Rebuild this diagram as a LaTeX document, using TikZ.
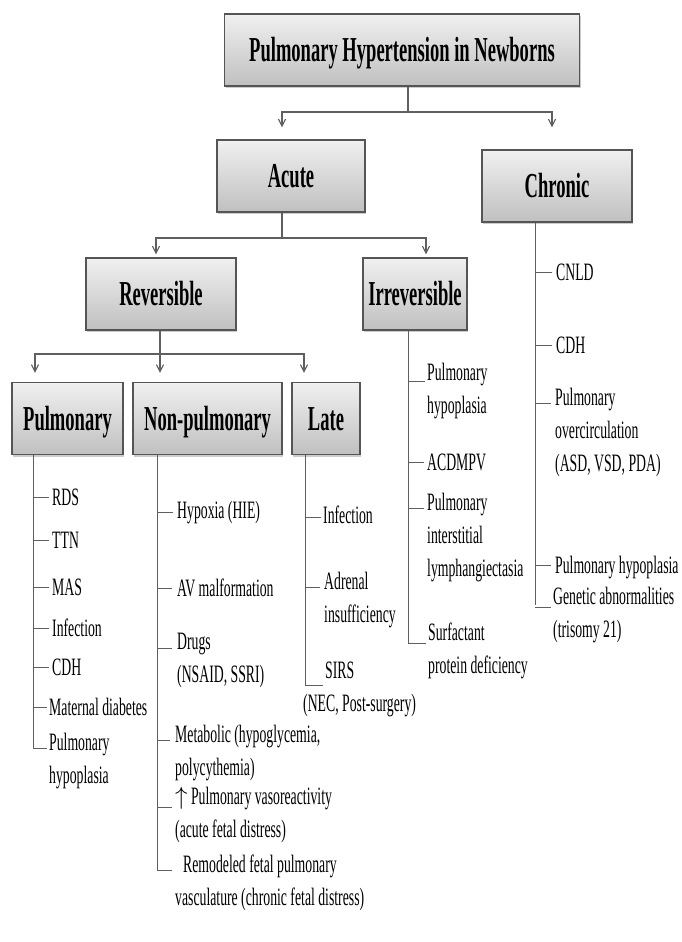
\documentclass[tikz,border=0pt]{standalone}
\usepackage{fontspec}
\setmainfont{Liberation Serif}[FakeStretch=0.55]
\newfontfamily\headfont{Liberation Serif}[FakeStretch=0.53]
\usetikzlibrary{arrows.meta, positioning, shadows}
\definecolor{LN}{RGB}{95,95,95}
\definecolor{BD}{RGB}{85,85,85}
\definecolor{TP}{RGB}{240,240,240}
\definecolor{BT}{RGB}{192,192,192}

\begin{document}
\begin{tikzpicture}[x=1pt, y=-1pt,
  box/.style={draw=BD, line width=1.1pt, top color=TP, bottom color=BT,
              minimum height=72pt, inner sep=0pt, text height=23pt, text depth=0pt,
              font=\headfont\bfseries\fontsize{35}{40}\selectfont,
              drop shadow={shadow xshift=1.2pt, shadow yshift=-2pt, opacity=.4}},
  item/.style={anchor=north west, align=left, inner sep=0pt,
               font=\fontsize{25}{33}\selectfont, execute at begin node=\strut},
  bus/.style={draw=LN, line width=1.2pt},
  arr/.style={bus, -{Straight Barb[length=7pt, width=7pt]}},
  tick/.style={draw=LN, line width=1pt}
]
\useasboundingbox (0,0) rectangle (681,942);

% boxes
\node[box, minimum width=355pt] (ph)     at (402,50)    {Pulmonary Hypertension in Newborns};
\node[box, minimum width=148pt] (acute)  at (291,176)   {Acute};
\node[box, minimum width=150pt] (chronic) at (557,186)  {Chronic};
\node[box, minimum width=150pt] (rev)    at (161,294)   {Reversible};
\node[box, minimum width=104pt] (irrev)  at (415,294)   {Irreversible};
\node[box, minimum width=111pt] (pul)    at (67.5,418.5) {Pulmonary};
\node[box, minimum width=149pt] (nonpul) at (207.5,418.5) {Non-pulmonary};
\node[box, minimum width=68pt]  (late)   at (326,418.5) {Late};

% tree connectors
\coordinate (j1) at (408,112);
\coordinate (j2) at (282,238);
\coordinate (j3) at (160,354);
\draw[bus] (ph.south -| j1) -- (j1);
\draw[arr, shorten >=12pt] (j1) -| ([xshift=-9pt]acute.north);
\draw[arr, shorten >=22pt] (j1) -| ([xshift=-5pt]chronic.north);
\draw[bus] (acute.south -| j2) -- (j2);
\draw[arr, shorten >=3pt] (j2) -| ([xshift=-5pt]rev.north);
\draw[arr, shorten >=3pt] (j2) -| ([xshift=11pt]irrev.north);
\draw[bus] (rev.south -| j3) -- (j3);
\draw[arr, shorten >=9pt] (j3) -| ([xshift=-32.5pt]pul.north);
\draw[arr, shorten >=9pt] (j3) -- (j3 |- nonpul.north);
\draw[arr, shorten >=9pt] (j3) -| ([xshift=-22pt]late.north);

% pulmonary (first baseline = y + 23)
\node[item] (rds)  at (52,482) {RDS};
\node[item] (ttn)  at (52,525) {TTN};
\node[item] (mas)  at (52,572) {MAS};
\node[item] (pinf) at (52,613) {Infection};
\node[item] (pcdh) at (52,652) {CDH};
\node[item] (matd) at (49,692) {Maternal diabetes};
\node[item] (phyp) at (49,733) {Pulmonary\\hypoplasia};

% non-pulmonary
\node[item] (hyp)  at (177,495) {Hypoxia (HIE)};
\node[item] (avm)  at (177,573) {AV malformation};
\node[item] (drug) at (177,633) {Drugs\\(NSAID, SSRI)};
\node[item] (meta) at (175,725) {Metabolic (hypoglycemia,\\polycythemia)};
\node[item] (vaso) at (175,787) {$\uparrow$ Pulmonary vasoreactivity\\(acute fetal distress)};
\node[item] (remo) at (175,855) {\hspace*{8pt}Remodeled fetal pulmonary\\vasculature (chronic fetal distress)};

% late
\node[item] (linf) at (323,500) {Infection};
\node[item] (adr)  at (324,572) {Adrenal\\insufficiency};
\node[item] (sirs) at (325,662) {SIRS\\\hspace*{-22pt}(NEC, Post-surgery)};

% irreversible
\node[item] (ihyp) at (427,363) {Pulmonary\\hypoplasia};
\node[item] (acd)  at (427,447) {ACDMPV};
\node[item] (pil)  at (427,493) {Pulmonary\\interstitial\\lymphangiectasia};
\node[item] (surf) at (428,623) {Surfactant\\protein deficiency};

% chronic
\node[item] (cnld) at (556,257) {CNLD};
\node[item] (ccdh) at (556,330) {CDH};
\node[item] (povc) at (555,388) {Pulmonary\\overcirculation\\(ASD, VSD, PDA)};
\node[item] (chyp) at (555,550) {Pulmonary hypoplasia};
\node[item] (gen)  at (553,587) {Genetic abnormalities\\(trisomy 21)};

% column lines
\coordinate (c1) at (33,748);
\coordinate (c2) at (157,870);
\coordinate (c3) at (305,685);
\coordinate (c4) at (408,643);
\coordinate (c5) at (535,605);
\draw[tick] (pul.south -| c1) -- (c1);
\draw[tick] (nonpul.south -| c2) -- (c2);
\draw[tick] (late.south -| c3) -- (c3);
\draw[tick] (irrev.south -| c4) -- (c4);
\draw[tick] (chronic.south -| c5) -- (c5);

% ticks
\draw[tick] (rds.north west)  ++(-3,15) coordinate (t) -- (t -| c1);
\draw[tick] (ttn.north west)  ++(-3,15) coordinate (t) -- (t -| c1);
\draw[tick] (mas.north west)  ++(-3,15) coordinate (t) -- (t -| c1);
\draw[tick] (pinf.north west) ++(-3,15) coordinate (t) -- (t -| c1);
\draw[tick] (pcdh.north west) ++(-3,15) coordinate (t) -- (t -| c1);
\draw[tick] (matd.north west) ++(-2,15) coordinate (t) -- (t -| c1);
\draw[tick] (phyp.north west) ++(-2,15) coordinate (t) -- (t -| c1);
\draw[tick] (hyp.north west)  ++(-4,17) coordinate (t) -- (t -| c2);
\draw[tick] (avm.north west)  ++(-5,15) coordinate (t) -- (t -| c2);
\draw[tick] (drug.north west) ++(-5,15) coordinate (t) -- (t -| c2);
\draw[tick] (meta.north west) ++(-5,15) coordinate (t) -- (t -| c2);
\draw[tick] (vaso.north west) ++(-3,20) coordinate (t) -- (t -| c2);
\draw[tick] (remo.north west) ++(-3,15) coordinate (t) -- (t -| c2);
\draw[tick] (linf.north west) ++(-2,17) coordinate (t) -- (t -| c3);
\draw[tick] (adr.north west)  ++(-4,15) coordinate (t) -- (t -| c3);
\draw[tick] (sirs.north west) ++(-2,23) coordinate (t) -- (t -| c3);
\draw[tick] (ihyp.north west) ++(-2,18) coordinate (t) -- (t -| c4);
\draw[tick] (acd.north west)  ++(-3,15) coordinate (t) -- (t -| c4);
\draw[tick] (pil.north west)  ++(-3,15) coordinate (t) -- (t -| c4);
\draw[tick] (surf.north west) ++(-2,20) coordinate (t) -- (t -| c4);
\draw[tick] (cnld.north west) ++(-4,15) coordinate (t) -- (t -| c5);
\draw[tick] (ccdh.north west) ++(-4,15) coordinate (t) -- (t -| c5);
\draw[tick] (povc.north west) ++(-4,15) coordinate (t) -- (t -| c5);
\draw[tick] (chyp.north west) ++(-4,15) coordinate (t) -- (t -| c5);
\draw[tick] (gen.north west)  ++(-2,20) coordinate (t) -- (t -| c5);
\end{tikzpicture}
\end{document}
